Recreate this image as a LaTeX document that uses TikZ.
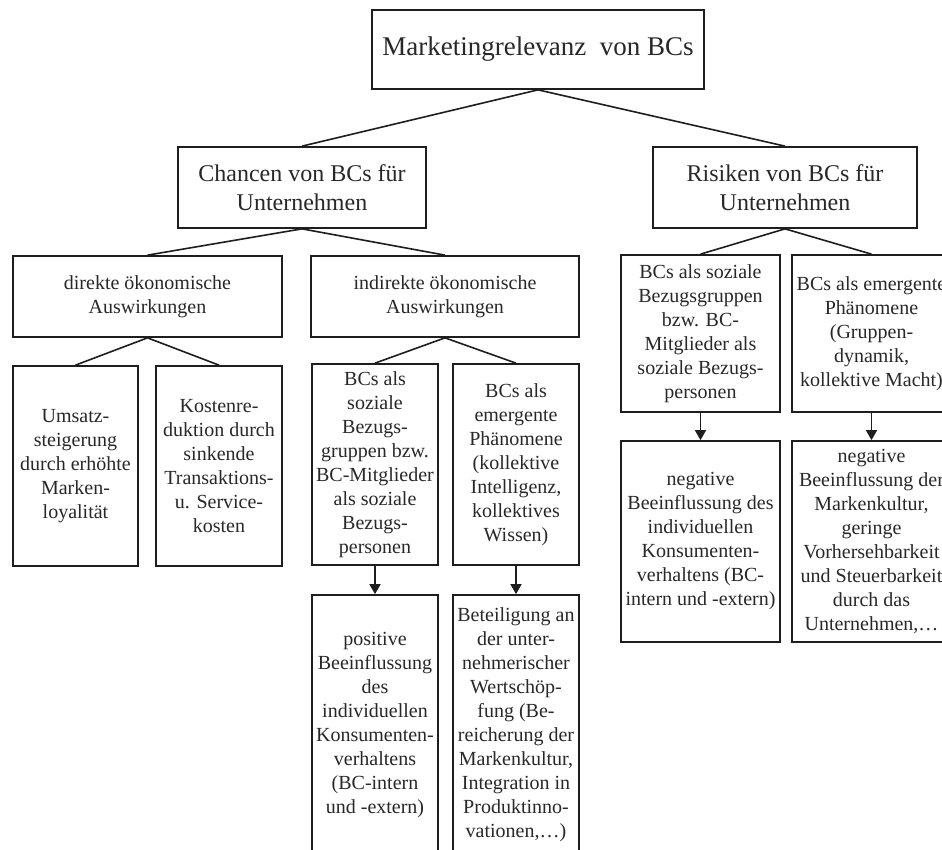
\documentclass[tikz,border=0pt]{standalone}
\usepackage{fontspec}
\setmainfont{Liberation Serif}
\usetikzlibrary{arrows.meta}
\definecolor{ink}{RGB}{30,30,30}
\definecolor{txt}{RGB}{40,40,40}
\tikzset{
  box/.style={draw=ink, line width=1.7pt, rectangle, inner sep=0pt, align=center, text=txt},
  lvlA/.style={box, font=\fontsize{27}{32}\selectfont},
  lvlB/.style={box, font=\fontsize{24}{29}\selectfont},
  lvlC/.style={box, font=\fontsize{20}{24}\selectfont},
  conn/.style={draw=ink, line width=1.6pt},
  arr/.style={draw=ink, line width=1.6pt, -{Triangle[width=11pt,length=10pt]}}
}
\begin{document}
\begin{tikzpicture}[x=1pt,y=-1pt]
\useasboundingbox[fill=white] (0,0) rectangle (942,850);

\node[lvlA, minimum width=332pt, minimum height=79pt] (top) at (538,49.5) {Marketingrelevanz\ \ von BCs};

\node[lvlB, minimum width=248pt, minimum height=81pt] (chancen) at (302,187.5) {Chancen von BCs für\\Unternehmen};
\node[lvlB, minimum width=264pt, minimum height=81pt] (risiken) at (785,187.5) {Risiken von BCs für\\Unternehmen};

\node[lvlC, minimum width=269pt, minimum height=81pt] (direkt) at (147.5,296.5) {direkte ökonomische\\Auswirkungen};
\node[lvlC, minimum width=268pt, minimum height=81pt] (indirekt) at (445,296.5) {indirekte ökonomische\\Auswirkungen};

\node[lvlC, minimum width=125pt, minimum height=200pt] (umsatz) at (75.5,466) {Umsatz-\\steigerung\\durch erhöhte\\Marken-\\loyalität};
\node[lvlC, minimum width=126pt, minimum height=200pt] (kosten) at (219,466) {Kostenre-\\duktion durch\\sinkende\\Transaktions-\\u. Service-\\kosten};

\node[lvlC, minimum width=126pt, minimum height=201pt] (bcsoz) at (375,464.5) {BCs als\\soziale\\Bezugs-\\gruppen bzw.\\BC-Mitglieder\\als soziale\\Bezugs-\\personen};
\node[lvlC, minimum width=126pt, minimum height=201pt] (bcem) at (516,464.5) {BCs als\\emergente\\Phänomene\\(kollektive\\Intelligenz,\\kollektives\\Wissen)};

\node[lvlC, minimum width=126pt, minimum height=260pt] (pos) at (375,725) {positive\\Beeinflussung\\des\\individuellen\\Konsumenten-\\verhaltens\\(BC-intern\\und -extern)};
\node[lvlC, minimum width=126pt, minimum height=260pt] (beteil) at (516,725) {Beteiligung an\\der unter-\\nehmerischer\\Wertschöp-\\fung (Be-\\reicherung der\\Markenkultur,\\Integration in\\Produktinno-\\vationen,…)};

\node[lvlC, minimum width=159pt, minimum height=157pt] (rsoz) at (700.5,333.5) {BCs als soziale\\Bezugsgruppen\\bzw. BC-\\Mitglieder als\\soziale Bezugs-\\personen};
\node[lvlC, minimum width=159pt, minimum height=157pt] (rem) at (871.5,333.5) {BCs als emergente\\Phänomene\\(Gruppen-\\dynamik,\\kollektive Macht)};

\node[lvlC, minimum width=159pt, minimum height=201pt] (rneg) at (700.5,541.5) {negative\\Beeinflussung des\\individuellen\\Konsumenten-\\verhaltens (BC-\\intern und -extern)};
\node[lvlC, minimum width=159pt, minimum height=201pt] (rnegb) at (871.5,541.5) {negative\\Beeinflussung der\\Markenkultur,\\geringe\\Vorhersehbarkeit\\und Steuerbarkeit\\durch das\\Unternehmen,…};

\draw[conn] (top.south) -- (chancen.north);
\draw[conn] (top.south) -- (risiken.north);
\draw[conn] (chancen.south) -- (direkt.north);
\draw[conn] (chancen.south) -- (indirekt.north);
\draw[conn] (risiken.south) -- (rsoz.north);
\draw[conn] (risiken.south) -- (rem.north);
\draw[conn] (direkt.south) -- (umsatz.north);
\draw[conn] (direkt.south) -- (kosten.north);
\draw[conn] (indirekt.south) -- (bcsoz.north);
\draw[conn] (indirekt.south) -- (bcem.north);

\draw[arr] (bcsoz.south) -- (pos.north);
\draw[arr] (bcem.south) -- (beteil.north);
\draw[arr] (rsoz.south) -- (rneg.north);
\draw[arr] (rem.south) -- (rnegb.north);
\end{tikzpicture}
\end{document}
